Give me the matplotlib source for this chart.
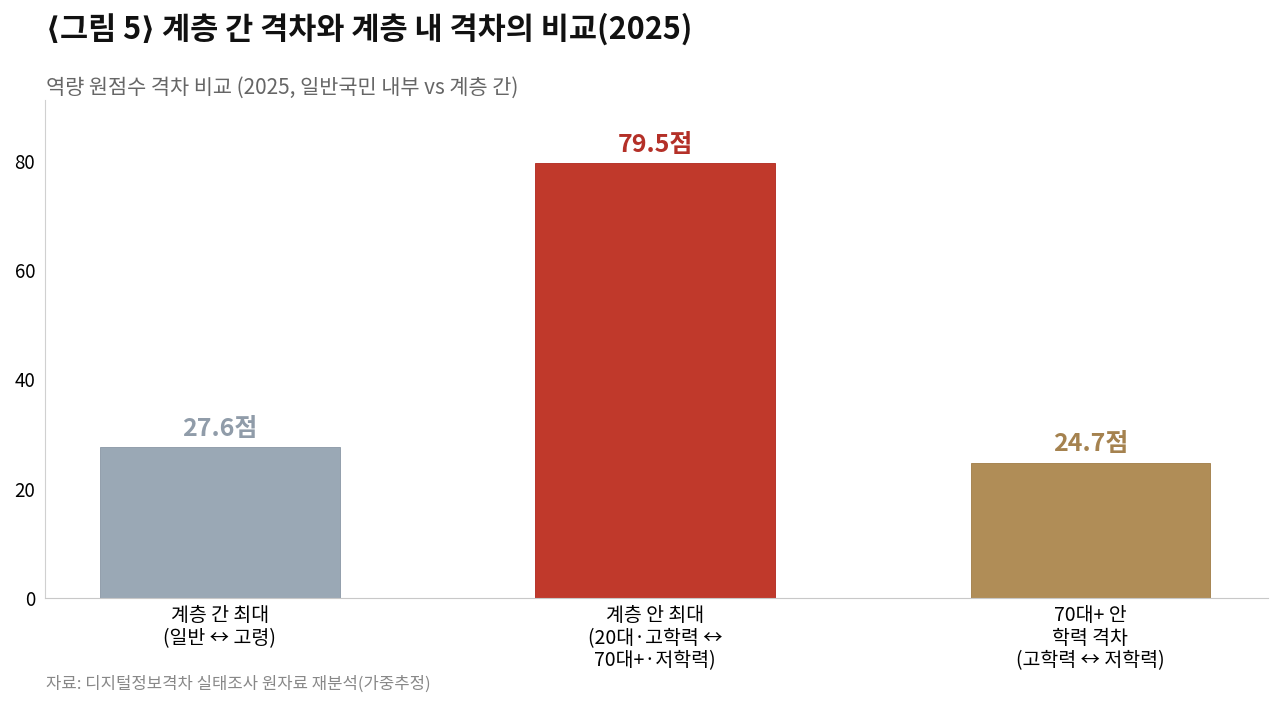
import matplotlib
matplotlib.use('Agg')
import matplotlib.pyplot as plt

plt.rcParams['font.family'] = ['Noto Sans CJK KR', 'DejaVu Sans']

# 데이터
categories = ['계층 간 최대\n(일반 ↔ 고령)',
              '계층 안 최대\n(20대·고학력 ↔\n70대+·저학력)',
              '70대+ 안\n학력 격차\n(고학력 ↔ 저학력)']
values = [27.6, 79.5, 24.7]
bar_colors = ['#9AA8B5', '#C0392B', '#B08D57']
label_colors = ['#8A97A5', '#B0251C', '#A07B45']

fig = plt.figure(figsize=(12.8, 7.07), dpi=100)
ax = fig.add_axes([0.035, 0.154, 0.956, 0.704])

x = range(len(values))
ax.bar(x, values, width=0.55, color=bar_colors,
       edgecolor=label_colors, linewidth=0.6, zorder=2)

for i, v in enumerate(values):
    ax.text(i, v + 1.2, f'{v}점', ha='center', va='bottom',
            fontsize=18, fontweight='bold', color=label_colors[i], alpha=0.95)

ax.set_xlim(-0.402, 2.409)
ax.set_ylim(0, 91)
ax.set_yticks([0, 20, 40, 60, 80])
ax.set_xticks(list(x))
ax.set_xticklabels(categories, fontsize=14, linespacing=1.1)
ax.tick_params(axis='y', length=0, labelsize=13.5, pad=7)
ax.tick_params(axis='x', length=0, pad=5)

for s in ['top', 'right']:
    ax.spines[s].set_visible(False)
ax.spines['left'].set_color('#D0D0D0')
ax.spines['bottom'].set_color('#C8C8C8')

fig.text(0.036, 0.958, '⟨그림 5⟩ 계층 간 격차와 계층 내 격차의 비교(2025)',
         fontsize=22, fontweight='bold', ha='left', va='center', color='#111111')
fig.text(0.036, 0.876, '역량 원점수 격차 비교 (2025, 일반국민 내부 vs 계층 간)',
         fontsize=15, ha='left', va='center', color='#666666')
fig.text(0.036, 0.032, '자료: 디지털정보격차 실태조사 원자료 재분석(가중추정)',
         fontsize=12, ha='left', va='center', color='#888888')

fig.savefig('out.png', dpi=100)
